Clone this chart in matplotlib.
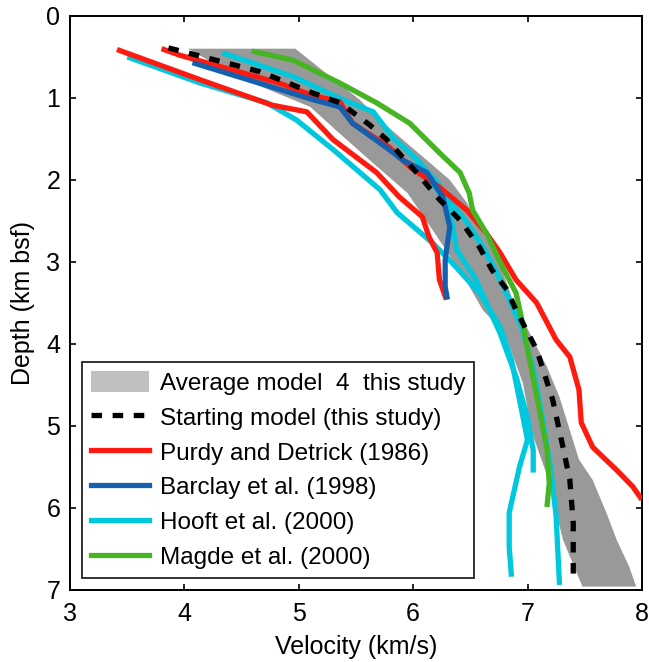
import matplotlib
matplotlib.use("Agg")
import matplotlib.pyplot as plt
from matplotlib.patches import Patch
from matplotlib.lines import Line2D
import numpy as np

plt.rcParams['font.family'] = ['Liberation Sans', 'DejaVu Sans']

# Average model (band edges)
band_left_v = [4.03, 4.46, 5.10, 5.33, 5.62, 5.95, 6.15, 6.27, 6.45, 6.61, 6.80, 6.96, 7.04, 7.17, 7.31, 7.48]
band_left_d = [0.40, 0.74, 1.11, 1.40, 1.76, 2.16, 2.57, 2.82, 3.20, 3.59, 3.87, 4.48, 5.09, 5.60, 6.39, 6.96]
band_right_v = [4.97, 5.24, 5.53, 5.71, 5.91, 6.12, 6.32, 6.47, 6.58, 6.75, 6.87, 7.17, 7.28, 7.45, 7.57, 7.69, 7.78, 7.89, 7.95]
band_right_d = [0.40, 0.70, 1.02, 1.27, 1.51, 1.76, 2.00, 2.28, 2.57, 3.00, 3.46, 4.28, 4.65, 5.41, 5.66, 6.06, 6.39, 6.72, 6.96]

# Starting model
start_v = [3.86, 4.66, 5.12, 5.36, 5.62, 5.77, 6.03, 6.23, 6.41, 6.58, 6.69, 6.82, 6.90, 7.08, 7.22, 7.31, 7.37, 7.40, 7.40]
start_d = [0.39, 0.68, 0.94, 1.06, 1.33, 1.51, 1.91, 2.24, 2.49, 2.82, 3.10, 3.34, 3.59, 4.07, 4.68, 5.26, 5.66, 6.18, 6.88]

# Purdy and Detrick (1986)
purdy1_v = [3.41, 4.14, 4.77, 5.07, 5.30, 5.68, 5.88, 6.08, 6.14, 6.21, 6.23, 6.29]
purdy1_d = [0.41, 0.78, 1.09, 1.17, 1.51, 1.91, 2.21, 2.45, 2.70, 2.89, 3.22, 3.46]
purdy2_v = [3.80, 3.96, 4.83, 5.10, 5.36, 5.47, 5.79, 5.97, 6.23, 6.47, 6.64, 6.76, 6.90, 7.08, 7.25, 7.37, 7.45, 7.47, 7.57, 7.78, 7.92, 8.00]
purdy2_d = [0.40, 0.48, 0.82, 0.96, 1.05, 1.31, 1.60, 1.84, 2.09, 2.37, 2.65, 2.89, 3.22, 3.50, 3.95, 4.16, 4.56, 4.96, 5.26, 5.54, 5.74, 5.90]

# Barclay et al. (1998)
barclay_v = [4.07, 5.12, 5.36, 5.47, 5.79, 5.91, 6.12, 6.26, 6.32, 6.28, 6.28, 6.30]
barclay_d = [0.57, 1.02, 1.11, 1.31, 1.63, 1.76, 1.91, 2.21, 2.57, 2.98, 3.30, 3.46]

# Hooft et al. (2000)
hooftA_v = [3.50, 4.14, 4.72, 4.98, 5.30, 5.71, 5.86, 6.17, 6.34, 6.58, 6.76, 6.86, 6.93, 7.00, 6.93, 6.84, 6.84, 6.86]
hooftA_d = [0.50, 0.82, 1.06, 1.27, 1.63, 2.12, 2.40, 2.77, 3.01, 3.38, 3.79, 4.20, 4.68, 5.17, 5.50, 6.06, 6.48, 6.84]
hooftB_v = [4.33, 4.95, 5.38, 5.65, 5.82, 6.03, 6.22, 6.29, 6.47, 6.61, 6.73, 6.84, 6.95, 7.05, 7.13, 7.20, 7.25, 7.28]
hooftB_d = [0.45, 0.74, 1.02, 1.17, 1.48, 1.75, 2.05, 2.21, 2.52, 2.82, 3.13, 3.46, 3.80, 4.30, 4.90, 5.50, 6.10, 6.94]
hooftC_v = [6.12, 6.21, 6.32, 6.38, 6.55, 6.76, 6.90, 7.00, 7.05, 7.05]
hooftC_d = [1.95, 2.12, 2.37, 2.85, 3.22, 3.87, 4.40, 4.90, 5.30, 5.57]

# Magde et al. (2000)
magde_v = [4.59, 4.95, 5.36, 5.68, 5.97, 6.23, 6.41, 6.49, 6.52, 6.64, 6.78, 6.90, 6.97, 6.99, 7.10, 7.17, 7.19, 7.17]
magde_d = [0.43, 0.54, 0.82, 1.06, 1.31, 1.67, 1.91, 2.16, 2.37, 2.65, 3.06, 3.38, 3.83, 3.99, 4.77, 5.29, 5.70, 5.99]

labels = ["Average model  4  this study", "Starting model (this study)",
          "Purdy and Detrick (1986)", "Barclay et al. (1998)",
          "Hooft et al. (2000)", "Magde et al. (2000)"]

c_red = "#ff1a10"
c_blue = "#1560ae"
c_cyan = "#00c8dc"
c_green = "#46b523"
c_band = "#999999"
c_band_leg = "#c0c0c0"

fig = plt.figure(figsize=(6.49, 6.62), dpi=100)
ax = fig.add_axes([0.108, 0.109, 0.881, 0.867])

ax.fill(np.concatenate([band_left_v, band_right_v[::-1]]),
        np.concatenate([band_left_d, band_right_d[::-1]]),
        color=c_band, lw=0, zorder=1)

lw = 3.8
for v, d in [(hooftA_v, hooftA_d), (hooftB_v, hooftB_d), (hooftC_v, hooftC_d)]:
    ax.plot(v, d, color=c_cyan, lw=lw, zorder=2, solid_capstyle='butt')
ax.plot(purdy1_v, purdy1_d, color=c_red, lw=lw, zorder=3, solid_capstyle='butt')
ax.plot(purdy2_v, purdy2_d, color=c_red, lw=lw, zorder=3, solid_capstyle='butt')
ax.plot(barclay_v, barclay_d, color=c_blue, lw=lw, zorder=4, solid_capstyle='butt')
ax.plot(magde_v, magde_d, color=c_green, lw=lw, zorder=4, solid_capstyle='butt')
ax.plot(start_v, start_d, color='black', lw=3.8, ls=(0, (2, 2)), zorder=5,
        dash_capstyle='butt')

ax.set_xlim(3, 8)
ax.set_ylim(7, 0)
ax.set_xticks([3, 4, 5, 6, 7, 8])
ax.set_yticks([0, 1, 2, 3, 4, 5, 6, 7])
ax.tick_params(direction='in', length=4, width=1.2, top=True, right=True,
               labelsize=18)
ax.tick_params(axis='x', pad=9)
ax.tick_params(axis='y', pad=7)
for s in ax.spines.values():
    s.set_linewidth(1.4)
ax.set_xlabel("Velocity (km/s)", fontsize=18, labelpad=6)
ax.set_ylabel("Depth (km bsf)", fontsize=18, labelpad=8)

handles = [Patch(facecolor=c_band_leg, edgecolor='none'),
           Line2D([], [], color='black', lw=3.8, ls=(0, (2, 2))),
           Line2D([], [], color=c_red, lw=lw),
           Line2D([], [], color=c_blue, lw=lw),
           Line2D([], [], color=c_cyan, lw=lw),
           Line2D([], [], color=c_green, lw=lw)]
leg = ax.legend(handles, labels, loc='lower left', bbox_to_anchor=(0.021, 0.021),
                fontsize=17.5, frameon=True, fancybox=False, borderaxespad=0,
                handlelength=2.4, handleheight=1.0, handletextpad=0.45,
                labelspacing=0.44, borderpad=0.35)
leg.get_frame().set_edgecolor('black')
leg.get_frame().set_linewidth(1.4)

fig.savefig("out.png", dpi=100)
